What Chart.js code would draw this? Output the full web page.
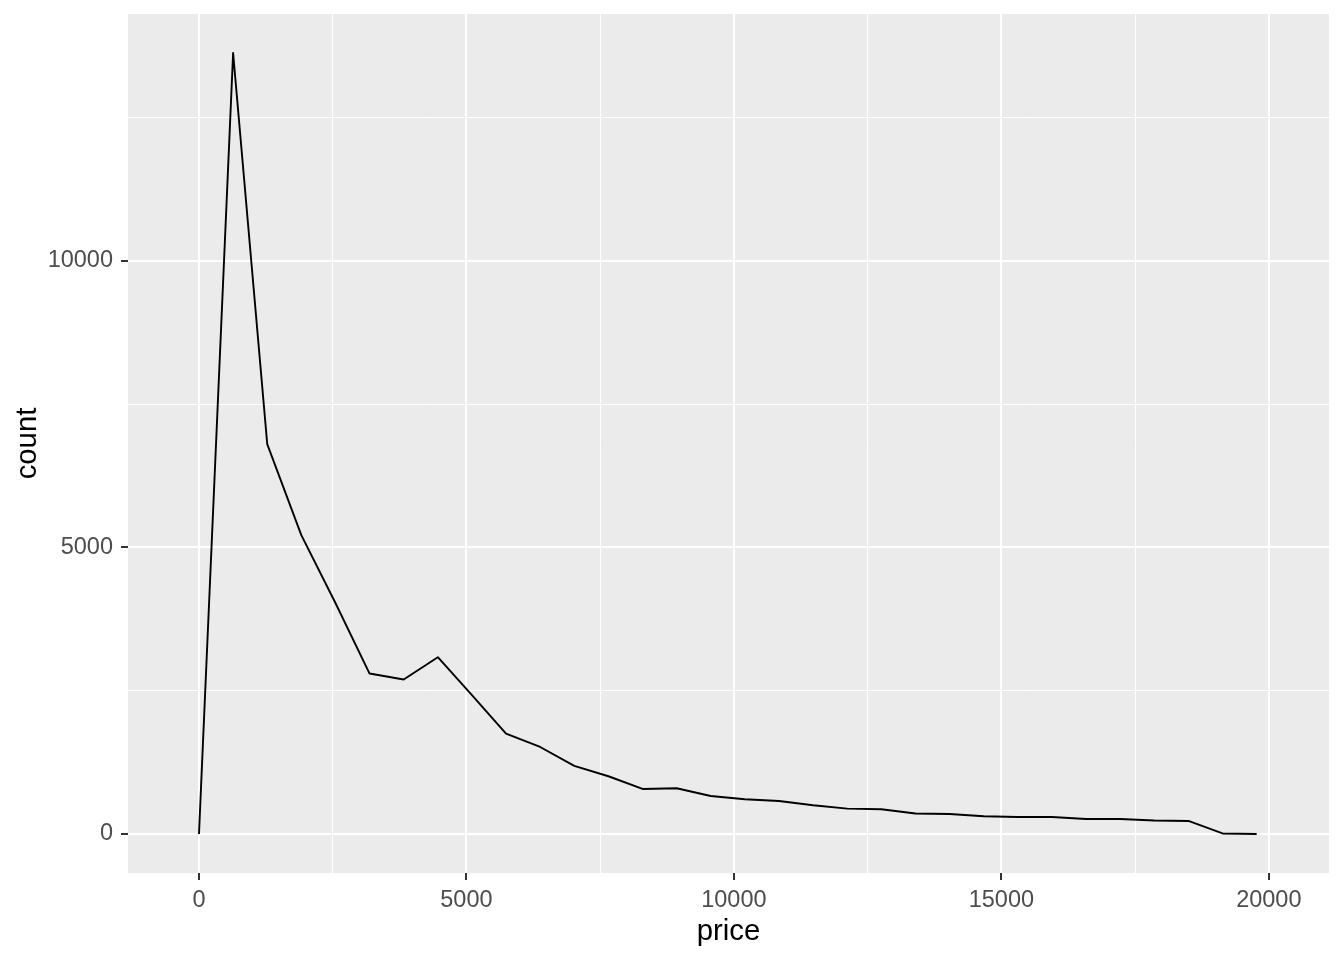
<!DOCTYPE html>
<html>
<head>
<meta charset="utf-8">
<script src="https://cdn.jsdelivr.net/npm/chart.js@4/dist/chart.umd.min.js"></script>
<style>
  html, body { margin: 0; padding: 0; background: #ffffff; }
  #wrap { width: 1344px; height: 960px; }
</style>
</head>
<body>
<div id="wrap"><canvas id="chart" width="1344" height="960"></canvas></div>
<script>
// freqpoly of price, 30 bins (bin mid points, padded with empty bins at both ends)
const priceMid = [0, 638, 1276, 1913, 2551, 3189, 3827, 4465, 5103, 5740, 6378, 7016, 7654, 8292, 8930, 9567,
  10205, 10843, 11481, 12119, 12757, 13394, 14032, 14670, 15308, 15946, 16584, 17221, 17859, 18497, 19135, 19773];
const counts = [0, 13625, 6801, 5213, 4030, 2799, 2695, 3084, 2421, 1752, 1518, 1187, 1007, 785, 798, 663,
  606, 576, 501, 443, 431, 356, 349, 309, 297, 297, 262, 262, 234, 227, 9, 0];

// major ticks get a label, minor ones only a grid line
const xTicks = [0, 5000, 10000, 15000, 20000];
const xMinor = [2500, 7500, 12500, 17500];
const yTicks = [0, 5000, 10000];
const yMinor = [2500, 7500, 12500];

const isMajor = (list, v) => list.indexOf(v) !== -1;

// grey ggplot panel behind the grid
const panelBg = {
  id: 'panelBg',
  beforeDraw(chart) {
    const { ctx, chartArea: a } = chart;
    ctx.save();
    ctx.fillStyle = '#EBEBEB';
    ctx.fillRect(a.left, a.top, a.right - a.left, a.bottom - a.top);
    ctx.restore();
  }
};

function axis(majors, minors, title, titlePad, labelPad, min, max) {
  return {
    type: 'linear',
    min, max,
    afterBuildTicks: s => {
      s.ticks = majors.concat(minors).sort((a, b) => a - b).map(v => ({ value: v }));
    },
    border: { display: false },
    grid: {
      color: '#FFFFFF',
      lineWidth: c => isMajor(majors, c.tick.value) ? 2 : 1,
      drawTicks: true,
      tickLength: 7,
      tickWidth: 2,
      tickColor: c => isMajor(majors, c.tick.value) ? '#333333' : 'rgba(0,0,0,0)'
    },
    ticks: {
      autoSkip: false,
      maxRotation: 0,
      padding: labelPad,
      color: '#4D4D4D',
      font: { family: 'Liberation Sans, Arial, sans-serif', size: 23.5 },
      callback: v => isMajor(majors, v) ? String(v) : ''
    },
    title: {
      display: true,
      text: title,
      color: '#000000',
      padding: titlePad,
      font: { family: 'Liberation Sans, Arial, sans-serif', size: 29.33 }
    }
  };
}

const xScale = axis(xTicks, xMinor, 'price', { top: 0, bottom: 10 }, 6, -1327, 21125);
xScale.afterFit = s => { s.height = 87; s.paddingLeft = 0; s.paddingRight = 0; };
const yScale = axis(yTicks, yMinor, 'count', { top: 10, bottom: 0 }, 8, -681, 14306);
yScale.afterFit = s => { s.width = 128; s.paddingTop = 0; s.paddingBottom = 0; };

new Chart(document.getElementById('chart').getContext('2d'), {
  type: 'line',
  data: {
    datasets: [{
      data: priceMid.map((p, i) => ({ x: p, y: counts[i] })),
      borderColor: '#000000',
      borderWidth: 1.9,
      borderJoinStyle: 'round',
      pointRadius: 0,
      tension: 0,
      fill: false
    }]
  },
  options: {
    responsive: false,
    animation: false,
    layout: { padding: { top: 14, right: 15, left: 0, bottom: 0 } },
    plugins: { legend: { display: false }, tooltip: { enabled: false } },
    scales: { x: xScale, y: yScale }
  },
  plugins: [panelBg]
});
</script>
</body>
</html>
